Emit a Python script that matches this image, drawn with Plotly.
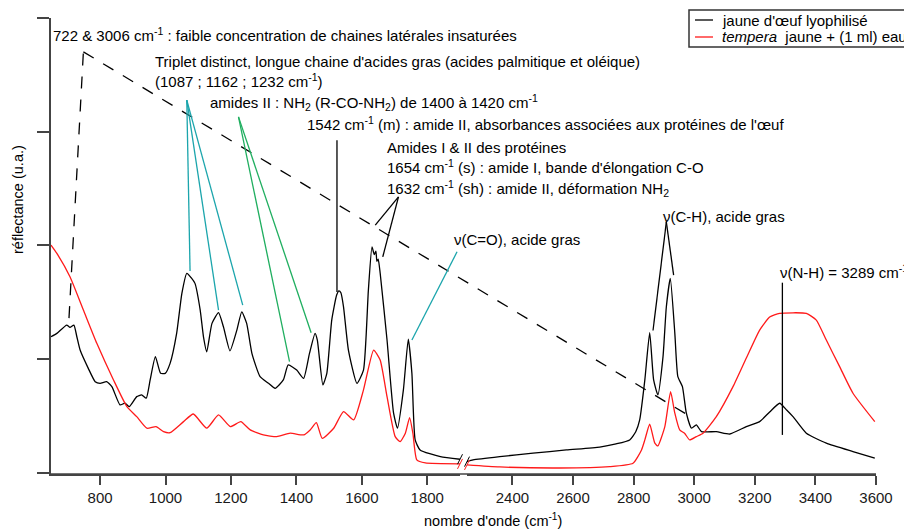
import plotly.graph_objects as go

# ---------------- data ----------------
black_left_wn = [650, 668, 698, 708, 720, 729, 739, 764, 785, 800,
                 820, 836, 861, 876, 889, 912, 927, 941, 953, 969,
                 985, 999, 1014, 1034, 1050, 1065, 1080, 1090, 1106, 1116,
                 1126, 1142, 1162, 1177, 1197, 1218, 1233, 1248, 1264, 1289,
                 1315, 1335, 1360, 1375, 1401, 1422, 1440, 1457, 1464, 1481,
                 1493, 1508, 1523, 1530, 1536, 1544, 1559, 1585, 1605, 1620,
                 1631, 1638, 1643, 1646, 1650, 1656, 1677, 1697, 1709, 1727,
                 1742, 1753, 1763, 1778, 1840, 1900]
black_left_val = [1.196, 1.226, 1.299, 1.279, 1.299, 1.196, 1.079, 0.918, 0.801, 0.786,
                  0.801, 0.757, 0.596, 0.611, 0.581, 0.669, 0.684, 0.655, 0.816, 1.021,
                  0.874, 0.874, 0.962, 1.226, 1.578, 1.754, 1.710, 1.666, 1.431, 1.196,
                  1.064, 1.314, 1.408, 1.284, 1.073, 1.255, 1.416, 1.314, 1.050, 0.845,
                  0.786, 0.742, 0.816, 0.948, 0.903, 0.830, 1.050, 1.226, 1.167, 0.772,
                  0.874, 1.343, 1.563, 1.600, 1.583, 1.460, 1.079, 0.786, 0.903, 1.607,
                  1.988, 1.920, 1.950, 1.860, 1.880, 1.757, 1.167, 0.523, 0.391, 0.728,
                  1.174, 0.874, 0.288, 0.200, 0.141, 0.118]

black_right_wn = [2250, 2270, 2358, 2468, 2578, 2688, 2742, 2787, 2807, 2820,
                  2837, 2853, 2866, 2880, 2897, 2908, 2921, 2936, 2946, 2961,
                  2974, 2991, 3007, 3024, 3073, 3117, 3172, 3216, 3249, 3282,
                  3305, 3326, 3370, 3436, 3524, 3596]
black_right_val = [0.097, 0.112, 0.141, 0.171, 0.200, 0.225, 0.253, 0.288, 0.360, 0.464,
                   0.816, 1.232, 0.816, 0.684, 1.021, 1.460, 1.710, 1.226, 0.845, 0.757,
                   0.523, 0.391, 0.420, 0.361, 0.361, 0.340, 0.405, 0.449, 0.534, 0.611,
                   0.552, 0.493, 0.347, 0.259, 0.185, 0.127]

red_left_wn = [650, 668, 708, 749, 790, 841, 882, 912, 943, 971,
               994, 1014, 1055, 1085, 1126, 1162, 1198, 1230, 1259, 1299,
               1340, 1381, 1422, 1442, 1461, 1479, 1514, 1544, 1575, 1605,
               1636, 1656, 1677, 1702, 1717, 1733, 1746, 1756, 1768, 1794, 1900]
red_left_val = [2.003, 1.930, 1.724, 1.431, 1.138, 0.816, 0.581, 0.493, 0.391, 0.405,
                0.361, 0.352, 0.449, 0.516, 0.391, 0.508, 0.405, 0.449, 0.376, 0.332,
                0.317, 0.347, 0.332, 0.376, 0.440, 0.301, 0.391, 0.537, 0.464, 0.728,
                1.079, 0.991, 0.669, 0.317, 0.273, 0.347, 0.484, 0.347, 0.112, 0.085, 0.077]

red_right_wn = [2250, 2358, 2556, 2721, 2798, 2826, 2837, 2853, 2870, 2880,
                2903, 2922, 2936, 2952, 2968, 2985, 3007, 3029, 3073, 3128,
                3172, 3216, 3249, 3282, 3370, 3403, 3436, 3480, 3524, 3596]
red_right_val = [0.068, 0.050, 0.041, 0.053, 0.083, 0.200, 0.288, 0.426, 0.259, 0.235,
                 0.405, 0.713, 0.523, 0.376, 0.347, 0.288, 0.317, 0.347, 0.493, 0.757,
                 1.009, 1.255, 1.370, 1.402, 1.402, 1.343, 1.167, 0.933, 0.699, 0.449]

left_ticks = [800, 1000, 1200, 1400, 1600, 1800]
right_ticks = [2400, 2600, 2800, 3000, 3200, 3400, 3600]
y_ticks = [0, 1, 2, 3, 4]

series_names = ["jaune d'œuf lyophilisé", "<i>tempera</i>  jaune + (1 ml) eau"]

# ---------------- layout helpers ----------------
FONT = "Liberation Sans, Arial, Helvetica, sans-serif"
X1_RANGE = [650, 1900]
X2_RANGE = [2250, 3600]
Y_RANGE = [-0.012, 4.002]
PLOT_W, PLOT_H = 825, 456
# page body adds an 8px offset; plot area is placed at window x 51..876, y 18..474
OFF = 8
D1 = 409 / PLOT_W
D2 = 416 / PLOT_W
TEAL = "#1ba5ac"
GREEN = "#1fae5f"
RED = "#ff1a1a"
AXC = "#444444"
ANN_SIZE = 15


def xp(wn):
    if wn <= X1_RANGE[1]:
        return D1 * (wn - X1_RANGE[0]) / (X1_RANGE[1] - X1_RANGE[0])
    return D2 + (1 - D2) * (wn - X2_RANGE[0]) / (X2_RANGE[1] - X2_RANGE[0])


def yp(v):
    return (v - Y_RANGE[0]) / (Y_RANGE[1] - Y_RANGE[0])


fig = go.Figure()
line_w = 1.3
curves = [(black_left_wn, black_left_val, "black", "x", 0),
          (black_right_wn, black_right_val, "black", "x2", 0),
          (red_left_wn, red_left_val, RED, "x", 1),
          (red_right_wn, red_right_val, RED, "x2", 1)]
for wn, val, col, xa, k in curves:
    fig.add_trace(go.Scatter(x=wn, y=val, mode="lines",
                             line=dict(color=col, width=line_w, shape="spline", smoothing=0.5),
                             xaxis=xa, yaxis="y", name=series_names[k], showlegend=False))

shapes = []


def seg(wn0, v0, wn1, v1, color, dash="solid", width=1.3):
    shapes.append(dict(type="line", xref="paper", yref="paper",
                       x0=xp(wn0), y0=yp(v0), x1=xp(wn1), y1=yp(v1),
                       line=dict(color=color, width=width, dash=dash)))


# dashed pointer for 722 & 3006
seg(705, 1.36, 749, 3.704, "black", "12px,11px")
seg(749, 3.704, 2995, 0.481, "black", "12px,11px")
# triplet (teal)
for wn, v in [(1075, 1.775), (1162, 1.431), (1236, 1.475)]:
    seg(1065, 3.279, wn, v, TEAL)
# amides II (green)
for wn, v in [(1379, 0.977), (1445, 1.232)]:
    seg(1223, 3.132, wn, v, GREEN)
# 1542
seg(1524, 2.926, 1524, 1.590, "black")
# amides I & II
seg(1712, 2.428, 1641, 2.179, "black")
seg(1712, 2.428, 1664, 1.900, "black")
# C=O
seg(1891, 1.944, 1753, 1.167, TEAL)
# C-H
seg(2908, 2.206, 2864, 1.251, "black")
seg(2908, 2.206, 2932, 1.739, "black")
# N-H
seg(3291, 1.672, 3291, 0.332, "black")

# continuous bottom axis line across the break
shapes.append(dict(type="line", xref="paper", yref="paper", x0=0, x1=1, y0=0, y1=0,
                   line=dict(color=AXC, width=1.5)))

# break marks on curves
dx, dy = 2.5 / PLOT_W, 5 / PLOT_H
for wn, v, col in [(black_left_wn[-1], black_left_val[-1], "black"),
                   (black_right_wn[0], black_right_val[0], "black"),
                   (red_left_wn[-1], red_left_val[-1], RED),
                   (red_right_wn[0], red_right_val[0], RED)]:
    shapes.append(dict(type="line", xref="paper", yref="paper",
                       x0=xp(wn) - dx, y0=yp(v) - dy, x1=xp(wn) + dx, y1=yp(v) + dy,
                       line=dict(color=col, width=1)))


def pxx(px):
    return (px - 51) / PLOT_W


def pxy(py):
    return (474 - py) / PLOT_H


# manual legend box (extends past the right edge as in the reference)
shapes.append(dict(type="rect", xref="paper", yref="paper",
                   x0=pxx(689), x1=pxx(930), y0=pxy(47), y1=pxy(10),
                   line=dict(color="#333", width=1.5), fillcolor="white"))
for yy, col in [(20, "black"), (37, RED)]:
    shapes.append(dict(type="line", xref="paper", yref="paper",
                       x0=pxx(695), x1=pxx(713), y0=pxy(yy), y1=pxy(yy),
                       line=dict(color=col, width=1.3)))

annotations = []


def txt(text, px, py, size=ANN_SIZE, angle=0, xanchor="left"):
    annotations.append(dict(text=text, xref="paper", yref="paper",
                            x=pxx(px), y=pxy(py),
                            xanchor=xanchor, yanchor="middle", showarrow=False,
                            textangle=angle, borderpad=0,
                            font=dict(family=FONT, size=size, color="black")))


txt("722 & 3006 cm<sup>-1</sup> : faible concentration de chaines latérales insaturées", 52, 34)
txt("Triplet distinct, longue chaine d'acides gras (acides palmitique et oléique)", 154, 62)
txt("(1087 ; 1162 ; 1232 cm<sup>-1</sup>)", 154, 80)
txt("amides II : NH<sub>2</sub> (R-CO-NH<sub>2</sub>) de 1400 à 1420 cm<sup>-1</sup>", 209, 102)
txt("1542 cm<sup>-1</sup> (m) : amide II, absorbances associées aux protéines de l'œuf", 306, 124)
txt("Amides I & II des protéines", 386, 147)
txt("1654 cm<sup>-1</sup> (s) : amide I, bande d'élongation C-O", 386, 166)
txt("1632 cm<sup>-1</sup> (sh) : amide II, déformation NH<sub>2</sub>", 386, 188)
txt("ν(C=O), acide gras", 453, 240)
txt("ν(C-H), acide gras", 662, 216)
txt("ν(N-H) = 3289 cm<sup>-1</sup>", 779, 271)
txt(series_names[0], 721, 20)
txt(series_names[1], 721, 37)
txt("nombre d'onde (cm<sup>-1</sup>)", 493, 520, size=14.5, xanchor="center")
txt("réflectance (u.a.)", 18, 200, size=14.5, angle=-90, xanchor="center")

axis_common = dict(showgrid=False, zeroline=False, showline=True, linecolor=AXC, linewidth=1.5,
                   ticks="outside", ticklen=9, tickwidth=1.5, tickcolor=AXC,
                   tickfont=dict(family=FONT, size=15, color="#1a1a1a"), anchor="y")

fig.update_layout(
    width=912, height=531,
    margin=dict(l=51 - OFF, r=912 - (876 - OFF), t=18 - OFF, b=531 - (474 - OFF)),
    paper_bgcolor="white", plot_bgcolor="white",
    font=dict(family=FONT, size=14, color="black"),
    xaxis=dict(domain=[0, D1], range=X1_RANGE, tickmode="array", tickvals=left_ticks, **axis_common),
    xaxis2=dict(domain=[D2, 1], range=X2_RANGE, tickmode="array", tickvals=right_ticks, **axis_common),
    yaxis=dict(range=Y_RANGE, tickmode="array", tickvals=y_ticks, showticklabels=False,
               showgrid=False, zeroline=False, showline=True, linecolor=AXC, linewidth=1.5,
               ticks="outside", ticklen=12, tickwidth=1.5, tickcolor=AXC, anchor="x"),
    shapes=shapes, annotations=annotations, showlegend=False,
)

fig.write_html("out.html")
